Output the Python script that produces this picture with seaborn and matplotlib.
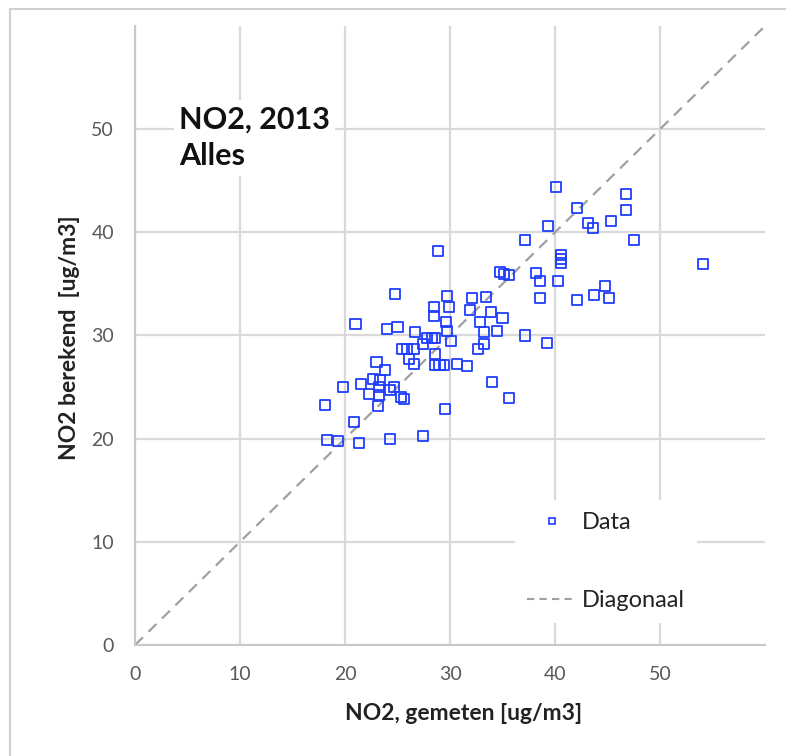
import matplotlib
matplotlib.use("Agg")
import matplotlib.pyplot as plt
from matplotlib.lines import Line2D
from matplotlib.patches import Rectangle
import seaborn as sns
import pandas as pd

# ---- data ----
gemeten = [40.1, 46.8, 42.1, 46.8, 43.1, 43.6, 45.3, 39.3, 37.1, 47.5,
           28.9, 54.1, 40.6, 40.6, 40.6, 34.8, 35.1, 35.6, 38.2, 38.6,
           40.3, 38.6, 42.1, 43.7, 44.8, 45.1, 37.1, 39.2, 35.6, 34.0,
           29.5, 27.4, 24.3, 21.3, 19.3, 18.3, 18.1, 19.8, 20.9, 21.0,
           21.5, 24.8, 24.0, 25.0, 23.0, 23.8, 22.7, 23.3, 22.3, 23.2,
           23.2, 23.1, 24.3, 24.7, 25.3, 25.6, 25.4, 25.9, 26.6, 26.1,
           26.6, 26.7, 27.4, 27.8, 28.3, 28.6, 28.6, 28.6, 29.0, 29.4,
           28.5, 28.5, 29.7, 29.9, 29.6, 29.7, 30.1, 30.7, 31.6, 32.1,
           33.4, 31.9, 33.9, 32.9, 33.2, 33.2, 32.7, 35.0, 34.5]
berekend = [44.4, 43.7, 42.4, 42.2, 40.9, 40.4, 41.1, 40.6, 39.3, 39.3,
            38.2, 36.9, 37.8, 37.4, 37.0, 36.2, 36.0, 35.9, 36.1, 35.3,
            35.3, 33.6, 33.4, 33.9, 34.8, 33.6, 30.0, 29.3, 23.9, 25.5,
            22.9, 20.3, 20.0, 19.6, 19.8, 19.9, 23.3, 25.0, 21.6, 31.1,
            25.3, 34.0, 30.6, 30.8, 27.4, 26.7, 25.8, 25.7, 24.3, 25.0,
            24.2, 23.2, 24.7, 25.0, 24.0, 23.8, 28.7, 28.7, 28.7, 27.7,
            27.2, 30.3, 29.2, 29.8, 29.8, 29.8, 28.2, 27.1, 27.1, 27.1,
            32.8, 31.9, 33.8, 32.8, 31.3, 30.4, 29.5, 27.2, 27.0, 33.6,
            33.7, 32.5, 32.3, 31.3, 30.3, 29.2, 28.7, 31.7, 30.4]
diag_x = [0, 60]
diag_y = [0, 60]
ticks = [0, 10, 20, 30, 40, 50]
title_text = "NO2, 2013\nAlles"
xlabel = "NO2, gemeten [ug/m3]"
ylabel = "NO2 berekend  [ug/m3]"
legend_labels = ["Data", "Diagonaal"]

df = pd.DataFrame({"gemeten": gemeten, "berekend": berekend})
ddf = pd.DataFrame({"x": diag_x, "y": diag_y})

sns.set_theme(style="white")
plt.rcParams["font.family"] = ["Lato", "DejaVu Sans"]

BLUE = "#1f3dff"
GRID = "#d9d9d9"
TXT = "#595959"

fig = plt.figure(figsize=(7.86, 7.56), dpi=100)
fig.patch.set_facecolor("white")
fig.patches.append(Rectangle((10 / 786, -0.05), 1.1, 1 - 9 / 756 + 0.05,
                             transform=fig.transFigure, fill=False,
                             edgecolor="#d0d0d0", linewidth=1.5))
ax = fig.add_axes([135 / 786, 1 - 645 / 756, 630 / 786, 619 / 756])

sns.lineplot(data=ddf, x="x", y="y", ax=ax, color="#a0a0a0", linewidth=1.6,
             linestyle=(0, (5, 3.5)), zorder=2)
sns.scatterplot(data=df, x="gemeten", y="berekend", ax=ax, marker="s", s=52,
                fc="none", ec=BLUE, linewidth=1.3, zorder=3)

ax.set_xlim(0, 60)
ax.set_ylim(0, 60)
ax.set_xticks(ticks)
ax.set_yticks(ticks)
ax.grid(True, color=GRID, linewidth=1.6, zorder=0)
ax.set_axisbelow(True)
for s in ["top", "right"]:
    ax.spines[s].set_visible(False)
for s in ["left", "bottom"]:
    ax.spines[s].set_color("#c8c8c8")
    ax.spines[s].set_linewidth(1.5)
ax.tick_params(axis="both", length=0, labelsize=14, labelcolor=TXT)
ax.tick_params(axis="x", pad=15)
ax.tick_params(axis="y", pad=15)
ax.set_xlabel(xlabel, fontsize=16.5, fontweight="bold", color="#222222")
ax.set_ylabel(ylabel, fontsize=16.5, fontweight="bold", color="#222222")
ax.xaxis.set_label_coords(0.521, -0.094)
ax.yaxis.set_label_coords(-0.088, 0.497)
ax.xaxis.label.set_va("top")

ax.text(0.07, 0.872, title_text, transform=ax.transAxes, fontsize=22,
        fontweight="bold", color="#111111", va="top", ha="left", linespacing=1.4,
        bbox=dict(facecolor="white", edgecolor="none", pad=4), zorder=5)

handles = [Line2D([], [], marker="s", linestyle="none", markersize=5,
                  markerfacecolor="none", markeredgecolor=BLUE, markeredgewidth=1.2),
           Line2D([], [], color="#a0a0a0", linestyle=(0, (3.5, 2.5)), linewidth=1.5)]
leg = ax.legend(handles, legend_labels, loc="upper left",
                bbox_to_anchor=(0.603, 0.234), borderaxespad=0, fontsize=17,
                frameon=True, facecolor="white", edgecolor="none", framealpha=1,
                handlelength=2.15, handletextpad=0.2, labelspacing=2.43,
                borderpad=0.5)
for t in leg.get_texts():
    t.set_color("#222222")

fig.savefig("out.png", dpi=100)
